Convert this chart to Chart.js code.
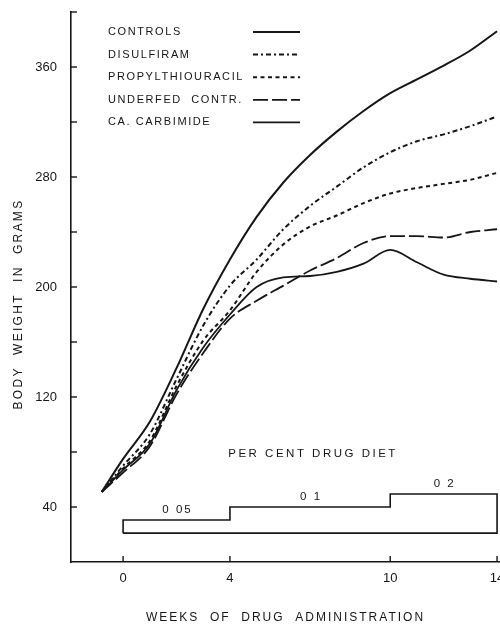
<!DOCTYPE html>
<html><head><meta charset="utf-8">
<script src="https://cdn.jsdelivr.net/npm/chart.js@4.4.1/dist/chart.umd.min.js"></script>
<style>html,body{margin:0;padding:0;background:#fff;} #wrap{width:500px;height:629px;position:relative;}</style>
</head><body><div id="wrap"><canvas id="c" width="500" height="629"></canvas></div>
<script>
// ---- data ----
const weeks      = [-0.8, 0, 1, 2, 3, 4, 5, 6, 7, 8, 9, 10, 11, 12, 13, 14];
const controls   = [51, 75, 102, 141, 184, 220, 251, 276, 296, 313, 328, 341, 351, 361, 372, 386];
const disulfiram = [51, 70, 93, 133, 172, 201, 220, 242, 259, 273, 287, 298, 306, 311, 317, 324];
const propyl     = [51, 68, 88, 128, 161, 183, 211, 231, 244, 252, 261, 268, 272, 275, 278, 283];
const underfed   = [51, 65, 84, 122, 152, 177, 190, 201, 212, 221, 232, 237, 237, 236, 240, 242];
const carbimide  = [51, 67, 86, 125, 156, 180, 200, 207, 208, 211, 217, 227, 218, 209, 206, 204];
const seriesNames = ['CONTROLS', 'DISULFIRAM', 'PROPYLTHIOURACIL', 'UNDERFED  CONTR.', 'CA. CARBIMIDE'];

const xTicks = [0, 4, 10, 14];
const yTicks = [40, 80, 120, 160, 200, 240, 280, 320, 360, 400];
const yLabelled = [40, 120, 200, 280, 360];

const doseWeeks  = [0, 4, 10, 14];
const doseLevels = [30.5, 40, 49.5];
const doseBase   = 21;
const doseLabels = ['0 05', '0 1', '0 2'];
const doseTitle  = 'PER CENT DRUG DIET';

const xTitle = 'WEEKS  OF  DRUG  ADMINISTRATION';
const yTitle = 'BODY  WEIGHT  IN  GRAMS';

// ---- build ----
const ink = '#161616';
const pts = arr => weeks.map((w, i) => ({x: w, y: arr[i]}));
const dosePts = [{x: doseWeeks[0], y: doseBase}];
doseLevels.forEach((lv, i) => { dosePts.push({x: doseWeeks[i], y: lv}); dosePts.push({x: doseWeeks[i + 1], y: lv}); });
dosePts.push({x: doseWeeks[doseWeeks.length - 1], y: doseBase});
dosePts.push({x: doseWeeks[0], y: doseBase});

const styles = [
  {borderDash: [], borderWidth: 2},
  {borderDash: [5, 3, 2, 3], borderWidth: 2},
  {borderDash: [4, 3.5], borderWidth: 2},
  {borderDash: [15, 4], borderWidth: 1.8},
  {borderDash: [], borderWidth: 1.8}
];
const seriesData = [controls, disulfiram, propyl, underfed, carbimide];
const datasets = seriesData.map((arr, i) => ({
  label: seriesNames[i], data: pts(arr), borderColor: ink, borderWidth: styles[i].borderWidth,
  borderDash: styles[i].borderDash, pointRadius: 0, fill: false, cubicInterpolationMode: 'monotone', tension: 0.4
}));
datasets.push({label: 'dose', data: dosePts, borderColor: ink, borderWidth: 1.6, pointRadius: 0, tension: 0, fill: false});

const deco = {
  id: 'deco',
  afterDraw(chart) {
    const {ctx, scales: {x, y}, chartArea: a} = chart;
    ctx.save();
    ctx.strokeStyle = ink; ctx.fillStyle = ink; ctx.lineWidth = 1.4;
    yTicks.forEach(v => { const py = y.getPixelForValue(v); ctx.beginPath(); ctx.moveTo(a.left, py); ctx.lineTo(a.left + 6, py); ctx.stroke(); });
    xTicks.forEach(v => { const px = x.getPixelForValue(v); ctx.beginPath(); ctx.moveTo(px, a.bottom); ctx.lineTo(px, a.bottom - 6); ctx.stroke(); });

    // legend
    ctx.letterSpacing = '1.6px';
    ctx.font = '11px "Liberation Sans", Arial, sans-serif';
    ctx.textBaseline = 'middle'; ctx.textAlign = 'left';
    seriesNames.forEach((n, i) => {
      const ry = 32 + i * 22.6;
      ctx.fillText(n, 108, ry);
      ctx.save();
      ctx.lineWidth = styles[i].borderWidth;
      ctx.setLineDash(styles[i].borderDash);
      ctx.beginPath(); ctx.moveTo(253, ry); ctx.lineTo(300, ry); ctx.stroke();
      ctx.restore();
    });

    // dose labels
    ctx.textAlign = 'center'; ctx.textBaseline = 'alphabetic';
    ctx.letterSpacing = '2px';
    ctx.font = '11.5px "Liberation Sans", Arial, sans-serif';
    doseLabels.forEach((t, i) => {
      const mid = (doseWeeks[i] + doseWeeks[i + 1]) / 2;
      ctx.fillText(t, x.getPixelForValue(mid) + 1, y.getPixelForValue(doseLevels[i]) - 7);
    });
    ctx.letterSpacing = '2.5px';
    const topDose = y.getPixelForValue(doseLevels[doseLevels.length - 1]);
    ctx.fillText(doseTitle, x.getPixelForValue((doseWeeks[0] + doseWeeks[doseWeeks.length - 1]) / 2) + 3, topDose - 37);

    // axis titles
    ctx.font = '12px "Liberation Sans", Arial, sans-serif';
    ctx.letterSpacing = '2px';
    ctx.fillText(xTitle, (a.left + a.right) / 2, 621);
    ctx.letterSpacing = '2.3px';
    ctx.save();
    ctx.translate(22, 304); ctx.rotate(-Math.PI / 2);
    ctx.fillText(yTitle, 0, 0);
    ctx.restore();
    ctx.restore();
  }
};

new Chart(document.getElementById('c'), {
  type: 'line',
  data: {datasets},
  options: {
    responsive: false, animation: false, devicePixelRatio: 1,
    layout: {padding: {top: 12, right: 0, left: 0, bottom: 0}},
    plugins: {legend: {display: false}, tooltip: {enabled: false}},
    scales: {
      x: {
        type: 'linear', min: -1.95, max: 14.11,
        afterBuildTicks: s => { s.ticks = xTicks.map(v => ({value: v})); },
        afterFit: s => { s.height = 67; s.paddingLeft = 0; s.paddingRight = 0; },
        grid: {display: true, drawOnChartArea: false, drawTicks: false},
        border: {display: true, color: ink, width: 1.6},
        ticks: {color: ink, font: {family: '"Liberation Sans", Arial, sans-serif', size: 13}, padding: 9, maxRotation: 0, autoSkip: false, callback: v => String(v)}
      },
      y: {
        type: 'linear', min: 0, max: 400,
        afterBuildTicks: s => { s.ticks = yTicks.map(v => ({value: v})); },
        afterFit: s => { s.width = 71; s.paddingTop = 0; s.paddingBottom = 0; },
        grid: {display: true, drawOnChartArea: false, drawTicks: false},
        border: {display: true, color: ink, width: 1.6},
        ticks: {color: ink, font: {family: '"Liberation Sans", Arial, sans-serif', size: 13}, padding: 14, autoSkip: false,
          callback: v => yLabelled.includes(v) ? String(v) : ''}
      }
    }
  },
  plugins: [deco]
});
</script>
</body></html>
